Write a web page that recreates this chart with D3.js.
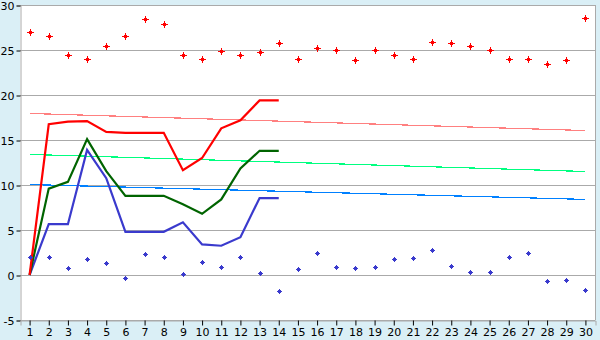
<!DOCTYPE html>
<html>
<head>
<meta charset="utf-8">
<script src="https://cdn.jsdelivr.net/npm/d3@7"></script>
<style>
  body { margin: 0; background: #daeff6; }
  svg { display: block; }
  .tick text { font-family: "DejaVu Sans", Verdana, sans-serif; font-size: 11px; fill: #000; }
</style>
</head>
<body>
<div id="chart"></div>
<script>
const days = d3.range(1, 31);
const yTicks = [-5, 0, 5, 10, 15, 20, 25, 30];

// scattered points
const highPoints = [27.0, 26.6, 24.5, 24.0, 25.5, 26.5, 28.4, 27.85, 24.4, 24.0,
  24.85, 24.4, 24.75, 25.75, 24.0, 25.2, 24.95, 23.85, 24.95, 24.5,
  24.05, 25.85, 25.75, 25.5, 24.95, 24.0, 24.05, 23.5, 23.85, 28.5];
const lowPoints = [2.0, 2.0, 0.75, 1.75, 1.3, -0.35, 2.3, 2.0, 0.1, 1.5,
  0.85, 2.0, 0.2, -1.8, 0.65, 2.4, 0.85, 0.75, 0.85, 1.75,
  1.85, 2.75, 0.95, 0.3, 0.3, 2.0, 2.5, -0.7, -0.6, -1.7];

// lines for the first 14 days
const redLine = [0, 16.75, 17.05, 17.1, 15.9, 15.8, 15.8, 15.8, 11.65, 13.0, 16.3, 17.2, 19.4, 19.4];
const greenLine = [0, 9.6, 10.35, 15.1, 11.55, 8.8, 8.8, 8.8, 7.85, 6.8, 8.4, 11.85, 13.8, 13.8];
const blueLine = [0, 5.65, 5.65, 13.9, 10.75, 4.8, 4.8, 4.8, 5.85, 3.4, 3.25, 4.2, 8.55, 8.55];

// thin trend lines, start and end values
const redTrend = [17.95, 16.05];
const greenTrend = [13.4, 11.5];
const blueTrend = [10.05, 8.4];

const width = 600, height = 340;
const plotLeft = 20, plotRight = 595, plotTop = 5, plotBottom = 320;

const svg = d3.select("#chart").append("svg")
  .attr("width", width)
  .attr("height", height);

const x = d3.scaleBand().domain(days).range([plotLeft, plotRight]);
const xc = d => x(d) + x.bandwidth() / 2;
const y = d3.scaleLinear().domain([-5, 30]).range([plotBottom, plotTop]);

svg.append("rect")
  .attr("x", plotLeft).attr("y", plotTop)
  .attr("width", plotRight - plotLeft).attr("height", plotBottom - plotTop)
  .attr("fill", "#fff");

// grid
svg.append("g")
  .selectAll("line")
  .data(yTicks)
  .join("line")
  .attr("x1", plotLeft).attr("x2", plotRight)
  .attr("y1", d => y(d) + 0.5).attr("y2", d => y(d) + 0.5)
  .attr("stroke", "#aaa");

svg.append("line")
  .attr("x1", plotRight + 0.5).attr("x2", plotRight + 0.5)
  .attr("y1", plotTop).attr("y2", plotBottom)
  .attr("stroke", "#aaa");

const yAxis = svg.append("g")
  .attr("transform", `translate(${plotLeft + 0.5},0.5)`)
  .call(d3.axisLeft(y).tickValues(yTicks).tickSize(4).tickPadding(2).tickFormat(d => String(d)));
yAxis.select(".domain").attr("stroke", "#aaa");
yAxis.selectAll(".tick line").attr("stroke", "#000");

const xAxis = svg.append("g")
  .attr("transform", `translate(0.5,${plotBottom + 0.5})`)
  .call(d3.axisBottom(x).tickSize(5).tickPadding(3));
xAxis.select(".domain").attr("stroke", "#aaa");
xAxis.selectAll(".tick line").attr("stroke", "#000");

// trend lines
const trends = [
  { vals: redTrend, color: "#ff8080" },
  { vals: greenTrend, color: "#00ff80" },
  { vals: blueTrend, color: "#0080ff" }
];
svg.append("g")
  .selectAll("line")
  .data(trends)
  .join("line")
  .attr("x1", xc(1)).attr("x2", xc(30))
  .attr("y1", d => y(d.vals[0])).attr("y2", d => y(d.vals[1]))
  .attr("stroke", d => d.color)
  .attr("stroke-width", 1.2)
  .attr("shape-rendering", "crispEdges");

// main lines
const line = d3.line().x((d, i) => xc(days[i])).y(d => y(d));
const series = [
  { vals: blueLine, color: "#3a3acd" },
  { vals: greenLine, color: "#006400" },
  { vals: redLine, color: "#ff0000" }
];
svg.append("g")
  .selectAll("path")
  .data(series)
  .join("path")
  .attr("d", d => line(d.vals))
  .attr("fill", "none")
  .attr("stroke", d => d.color)
  .attr("stroke-width", 2.2)
  .attr("stroke-linejoin", "miter");

// markers, snapped to pixel centres
const smallMarker = "M-0.5,-2.5H0.5V-1.5H1.5V-0.5H2.5V0.5H1.5V1.5H0.5V2.5H-0.5V1.5H-1.5V0.5H-2.5V-0.5H-1.5V-1.5H-0.5Z";
const bigMarker = "M-0.5,-3.5H0.5V-1.5H1.5V-0.5H3.5V0.5H1.5V1.5H0.5V3.5H-0.5V1.5H-1.5V0.5H-3.5V-0.5H-1.5V-1.5H-0.5Z";
const at = (d, i) => `translate(${Math.round(xc(days[i])) + 0.5},${Math.round(y(d)) + 0.5})`;
svg.append("g")
  .selectAll("path")
  .data(highPoints)
  .join("path")
  .attr("d", bigMarker)
  .attr("transform", at)
  .attr("fill", "#ff0000")
  .attr("shape-rendering", "crispEdges");

svg.append("g")
  .selectAll("path")
  .data(lowPoints)
  .join("path")
  .attr("d", smallMarker)
  .attr("transform", at)
  .attr("fill", "#3a3acd")
  .attr("shape-rendering", "crispEdges");
</script>
</body>
</html>
